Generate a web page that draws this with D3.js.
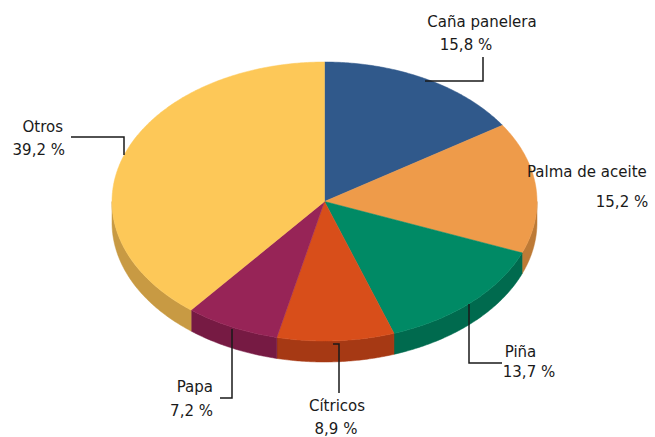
<!DOCTYPE html>
<html>
<head>
<meta charset="utf-8">
<script src="https://cdn.jsdelivr.net/npm/d3@7"></script>
<style>
  html, body { margin: 0; padding: 0; background: #fff; }
  svg { display: block; }
  text { font-family: "DejaVu Sans", sans-serif; font-size: 15px; fill: #1a1a1a; }
</style>
</head>
<body>
<svg id="chart" width="655" height="437"></svg>
<script>
// ---- data ----
const categories = ["Caña panelera", "Palma de aceite", "Piña", "Cítricos", "Papa", "Otros"];
const values = [15.8, 15.2, 13.7, 8.9, 7.2, 39.2];
const valueLabels = ["15,8 %", "15,2 %", "13,7 %", "8,9 %", "7,2 %", "39,2 %"];
const topColors = ["#30598B", "#EE9B4A", "#008A65", "#D84E1A", "#972457", "#FDC858"];
const sideColors = ["#24456C", "#BD7A36", "#006A4E", "#A63914", "#761A43", "#C89A43"];

// ---- geometry ----
const cx = 324.5, cy = 201.5, rx = 212.5, ry = 139.5, depth = 21;

const svg = d3.select("#chart");
const topColor = d3.scaleOrdinal().domain(categories).range(topColors);
const sideColor = d3.scaleOrdinal().domain(categories).range(sideColors);

const pie = d3.pie().sort(null).value(d => d.value).startAngle(0).endAngle(2 * Math.PI);
const data = categories.map((c, i) => ({ name: c, value: values[i], label: valueLabels[i] }));
const arcs = pie(data);

// Project an angle (clockwise from top) on the ellipse
const px = a => cx + rx * Math.sin(a);
const py = (a, dy = 0) => cy - ry * Math.cos(a) + dy;
const line = d3.line().x(d => d[0]).y(d => d[1]);

function samples(a0, a1) {
  const n = Math.max(2, Math.ceil((a1 - a0) / 0.01));
  return d3.range(n + 1).map(k => a0 + (a1 - a0) * k / n);
}

// Sides (visible front half: PI/2 .. 3PI/2)
const gSide = svg.append("g");
arcs.forEach(d => {
  const a0 = Math.max(d.startAngle, Math.PI / 2);
  const a1 = Math.min(d.endAngle, 3 * Math.PI / 2);
  if (a1 <= a0) return;
  const angs = samples(a0, a1);
  const pts = angs.map(a => [px(a), py(a)])
    .concat(angs.slice().reverse().map(a => [px(a), py(a, depth)]));
  gSide.append("path")
    .attr("d", line(pts) + "Z")
    .attr("fill", sideColor(d.data.name))
    .attr("stroke", sideColor(d.data.name))
    .attr("stroke-width", 0.5);
});

// Top faces
const gTop = svg.append("g");
arcs.forEach(d => {
  const angs = samples(d.startAngle, d.endAngle);
  const pts = [[cx, cy]].concat(angs.map(a => [px(a), py(a)]));
  gTop.append("path")
    .attr("d", line(pts) + "Z")
    .attr("fill", topColor(d.data.name))
    .attr("stroke", topColor(d.data.name))
    .attr("stroke-width", 0.5);
});

// ---- labels & leader lines ----
const labelLayout = {
  "Caña panelera": { t1: [482, 27, "middle"], t2: [466, 49.5, "middle"], leader: [[425, 81], [483, 81], [483, 57]] },
  "Palma de aceite": { t1: [527, 177, "start"], t2: [622, 207, "middle"], leader: null },
  "Piña": { t1: [520.5, 357, "middle"], t2: [529, 377, "middle"], leader: [[469, 304], [469, 363], [502, 363]] },
  "Cítricos": { t1: [337, 410.5, "middle"], t2: [336, 433.5, "middle"], leader: [[333, 344], [339, 344], [339, 393]] },
  "Papa": { t1: [213, 392, "end"], t2: [213, 415.5, "end"], leader: [[232, 329], [232, 398], [220, 398]] },
  "Otros": { t1: [63, 131.5, "end"], t2: [65, 155, "end"], leader: [[71, 137], [124, 137], [124, 155]] }
};

const gLab = svg.append("g");
arcs.forEach(d => {
  const L = labelLayout[d.data.name];
  if (L.leader) {
    gLab.append("path")
      .attr("d", d3.line()(L.leader))
      .attr("fill", "none")
      .attr("stroke", "#1a1a1a")
      .attr("stroke-width", 1.5);
  }
  gLab.append("text").attr("x", L.t1[0]).attr("y", L.t1[1]).attr("text-anchor", L.t1[2]).text(d.data.name);
  gLab.append("text").attr("x", L.t2[0]).attr("y", L.t2[1]).attr("text-anchor", L.t2[2]).text(d.data.label);
});
</script>
</body>
</html>
